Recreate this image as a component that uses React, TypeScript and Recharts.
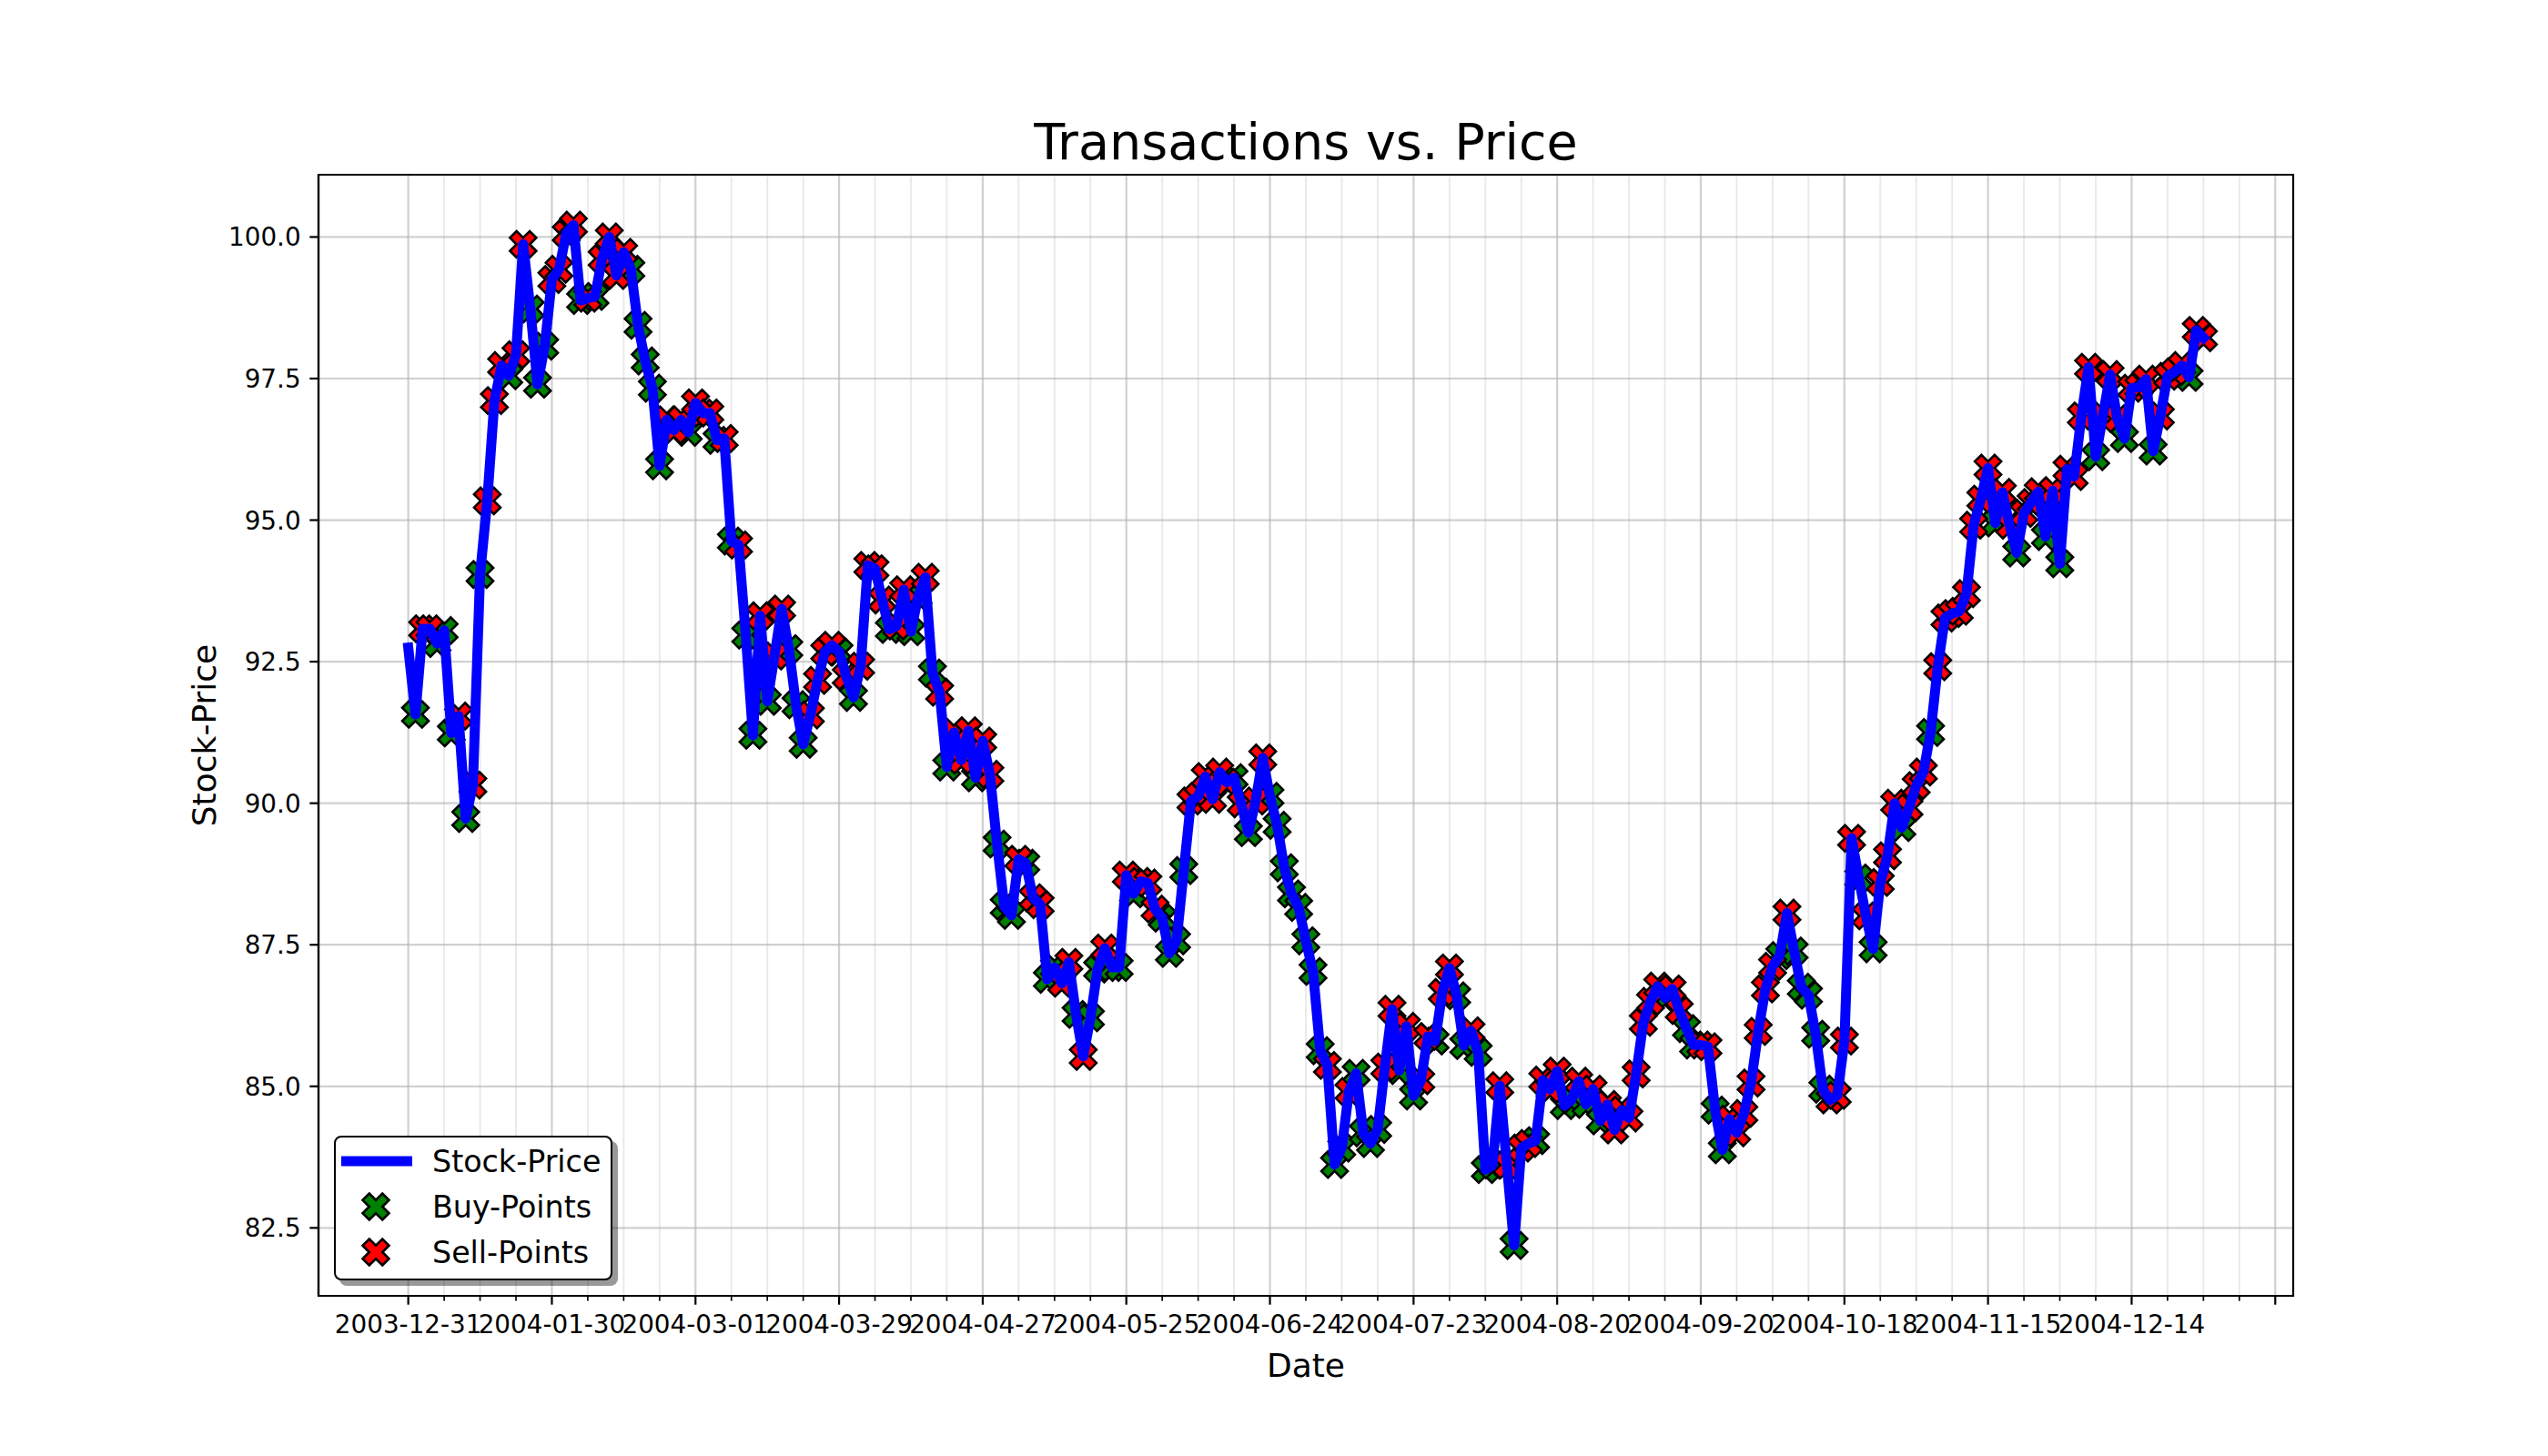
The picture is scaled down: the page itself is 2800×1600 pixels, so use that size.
import React from "react";
import {
  ComposedChart, Line, Scatter, XAxis, YAxis, CartesianGrid, ReferenceArea,
} from "recharts";

const FONT = '"DejaVu Sans", "Liberation Sans", sans-serif';

// tick labels shown every 20 trading days
const dateLabels = [
  "2003-12-31", "2004-01-30", "2004-03-01", "2004-03-29", "2004-04-27",
  "2004-05-25", "2004-06-24", "2004-07-23", "2004-08-20", "2004-09-20",
  "2004-10-18", "2004-11-15", "2004-12-14",
];

// closing price per trading day (index 0 .. 250)
const prices = [
  92.75, 91.57, 93.08, 93.08, 92.82, 93.05, 91.24, 91.54, 89.73, 90.32,
  94.04, 95.34, 97.11, 97.73, 97.55, 97.92, 99.87, 98.73, 97.4, 98.07,
  99.25, 99.43, 100.06, 100.21, 98.88, 98.92, 98.95, 99.62, 100.0, 99.32,
  99.73, 99.43, 98.44, 97.81, 97.33, 95.96, 96.77, 96.59, 96.77, 96.55,
  97.07, 96.89, 96.89, 96.41, 96.44, 94.63, 94.56, 92.97, 91.2, 93.31,
  91.8, 92.6, 93.43, 92.73, 91.74, 91.04, 91.56, 92.17, 92.67, 92.79,
  92.67, 92.24, 91.87, 92.42, 94.2, 94.14, 93.59, 93.07, 93.13, 93.77,
  93.03, 93.65, 93.99, 92.3, 91.96, 90.64, 91.25, 90.76, 91.28, 90.45,
  91.1, 90.51, 89.28, 88.18, 88.02, 89.01, 88.94, 88.33, 88.21, 86.89,
  87.1, 86.82, 87.19, 86.27, 85.53, 86.21, 87.07, 87.44, 87.1, 87.1,
  88.73, 88.4, 88.62, 88.59, 88.13, 87.97, 87.35, 87.57, 88.81, 90.04,
  90.12, 90.47, 90.07, 90.55, 90.37, 90.45, 89.99, 89.48, 90.04, 90.8,
  90.12, 89.61, 88.86, 88.4, 88.16, 87.57, 87.03, 85.63, 85.37, 83.62,
  83.91, 84.91, 85.23, 84.18, 83.99, 84.24, 85.34, 86.36, 85.28, 86.06,
  84.83, 85.1, 85.88, 85.8, 86.66, 87.09, 86.6, 85.72, 85.98, 85.6,
  83.53, 83.61, 85.01, 83.61, 82.19, 83.91, 83.99, 84.04, 85.11, 84.95,
  85.27, 84.66, 84.76, 85.09, 84.68, 84.95, 84.39, 84.68, 84.23, 84.58,
  84.44, 85.22, 86.13, 86.5, 86.77, 86.56, 86.72, 86.34, 86.02, 85.73,
  85.73, 85.7, 84.58, 83.88, 84.42, 84.18, 84.52, 85.06, 85.97, 86.72,
  87.12, 87.31, 88.06, 87.39, 86.75, 86.61, 85.92, 84.95, 84.76, 84.84,
  85.8, 89.38, 88.68, 88.01, 87.43, 88.6, 89.07, 90.0, 89.57, 89.92,
  90.31, 90.55, 91.25, 92.41, 93.27, 93.35, 93.39, 93.7, 94.91, 95.37,
  95.92, 94.95, 95.49, 94.91, 94.42, 95.12, 95.31, 95.5, 94.71, 95.52,
  94.23, 95.9, 95.77, 96.84, 97.7, 96.12, 96.84, 97.57, 96.79, 96.44,
  97.33, 97.35, 97.49, 96.22, 96.84, 97.54, 97.62, 97.73, 97.52, 98.35,
  98.22,
];

// trading days with a buy / a sell
const buyIdx = [
  1, 4, 5, 6, 8, 10, 14, 17, 18, 19, 24, 26, 31, 32, 33, 34, 35, 39, 43, 45, 47, 48, 50,
  53, 54, 55, 60, 62, 67, 70, 71, 73, 75, 79, 82, 83, 84, 86, 89, 90, 93, 95, 96, 98, 99,
  101, 105, 106, 107, 108, 115, 117, 120, 121, 122, 123, 124, 125, 126, 127, 129, 130,
  132, 133, 134, 135, 138, 140, 143, 146, 147, 149, 150,
  151, 154, 157, 161, 162, 164, 166, 175, 178, 179, 182, 183, 191, 193, 194, 195, 196, 197,
  202, 204, 208, 212, 221, 224, 228, 230, 235, 239, 243, 248,
];
const sellIdx = [
  2, 3, 7, 9, 11, 12, 13, 15, 16, 20, 21, 22, 23, 25, 27, 28, 29, 30, 36, 37, 38, 40, 41, 42, 44, 46, 49,
  51, 52, 56, 57, 58, 59, 61, 63, 64, 65, 66, 68, 69, 72, 74, 76, 77, 78, 80, 81, 85, 87, 88, 91, 92, 94, 97, 100,
  102, 103, 104, 109, 110, 111, 112, 113, 114, 116, 118, 119, 128, 131, 136, 137, 139, 141, 142, 144, 145, 148,
  152, 153, 155, 156, 158, 159, 160, 163, 165, 167, 168, 169, 170, 171, 172, 173, 174, 176, 177, 180, 181,
  184, 185, 186, 187, 188, 189, 190, 192, 198, 199, 200,
  201, 203, 205, 206, 207, 209, 210, 211, 213, 214, 215, 216, 217, 218, 219, 220, 222, 223, 225, 226, 227,
  229, 231, 232, 233, 234, 236, 237, 238, 240, 241, 242, 244, 245, 246, 247, 249, 250,
];

const yTicks = [82.5, 85, 87.5, 90, 92.5, 95, 97.5, 100];
const xTicks = Array.from({ length: 53 }, (_, i) => i * 5); // minor every 5, major every 20
const legendLabels = ["Stock-Price", "Buy-Points", "Sell-Points"];

const priceData = prices.map((price, idx) => ({ idx, price }));
const buyData = buyIdx.map((idx) => ({ idx, price: prices[idx] }));
const sellData = sellIdx.map((idx) => ({ idx, price: prices[idx] }));

// matplotlib's filled "X" marker outline
const X_PTS = [[-1, -2], [0, -1], [1, -2], [2, -1], [1, 0], [2, 1], [1, 2], [0, 1], [-1, 2], [-2, 1], [-1, 0], [-2, -1]];
const xPath = (cx: number, cy: number, unit: number) =>
  X_PTS.map(([a, b], i) => `${i ? "L" : "M"}${cx + a * unit},${cy + b * unit}`).join("") + "Z";

function XMark({ cx, cy, fill }: { cx?: number; cy?: number; fill: string }) {
  if (cx == null || cy == null) return null;
  return <path d={xPath(cx, cy, 7.25)} fill={fill} stroke="#000" strokeWidth={2.6} strokeLinejoin="miter" />;
}

function XTick(props: any) {
  const { x, y, payload } = props;
  const v = payload.value as number;
  const major = v % 20 === 0;
  const label = major ? dateLabels[v / 20] : undefined;
  return (
    <g>
      <line x1={x} x2={x} y1={y} y2={y + (major ? 9.7 : 5.6)} stroke="#000" strokeWidth={major ? 2.2 : 1.7} />
      {label && (
        <text x={x} y={y + 41} textAnchor="middle" fontSize={27.8} fontFamily={FONT} fill="#000">{label}</text>
      )}
    </g>
  );
}

function YTick(props: any) {
  const { x, y, payload } = props;
  return (
    <g>
      <line x1={x - 9.7} x2={x} y1={y} y2={y} stroke="#000" strokeWidth={2.2} />
      <text x={x - 19.4} y={y + 10} textAnchor="end" fontSize={27.8} fontFamily={FONT} fill="#000">
        {(payload.value as number).toFixed(1)}
      </text>
    </g>
  );
}

const hGrid = (p: any) => (
  <line key={p.key} x1={p.x1} y1={p.y1} x2={p.x2} y2={p.y2} stroke="#b0b0b0" strokeOpacity={0.6} strokeWidth={2.2} />
);
const vGrid = (p: any) => {
  const major = p.index % 4 === 0;
  return (
    <line key={p.key} x1={p.x1} y1={p.y1} x2={p.x2} y2={p.y2} stroke="#b0b0b0"
      strokeOpacity={major ? 0.6 : 0.28} strokeWidth={major ? 2.2 : 1.9} />
  );
};

export default function App() {
  return (
    <div style={{ position: "relative", width: 2800, height: 1600, background: "#fff", fontFamily: FONT }}>
      <style>{`body{margin:0;}`}</style>
      <ComposedChart width={2800} height={1600} margin={{ top: 192, right: 280, bottom: 0, left: 0 }}>
        <CartesianGrid horizontal={hGrid} vertical={vGrid} />
        <XAxis
          dataKey="idx" type="number" domain={[-12.5, 262.5]} ticks={xTicks} interval={0}
          height={176} tickSize={0} tickMargin={0} tickLine={false} tick={<XTick />}
          axisLine={{ stroke: "#000", strokeWidth: 2.2 }}
        />
        <YAxis
          type="number" domain={[81.3, 101.1]} ticks={yTicks} interval={0}
          width={350} tickSize={0} tickMargin={0} tickLine={false} tick={<YTick />}
          axisLine={{ stroke: "#000", strokeWidth: 2.2 }}
        />
        <Scatter data={buyData} dataKey="price" fill="#008000" isAnimationActive={false}
          shape={(p: any) => <XMark cx={p.cx} cy={p.cy} fill="#008000" />} />
        <Scatter data={sellData} dataKey="price" fill="#ff0000" isAnimationActive={false}
          shape={(p: any) => <XMark cx={p.cx} cy={p.cy} fill="#ff0000" />} />
        <Line
          data={priceData} dataKey="price" type="linear" stroke="#0000ff" strokeWidth={11}
          strokeLinecap="square" strokeLinejoin="round" dot={false} activeDot={false}
          isAnimationActive={false} zIndex={700}
        />
        <ReferenceArea x1={-12.5} x2={262.5} y1={81.3} y2={101.1} fill="none" fillOpacity={0}
          stroke="#000" strokeWidth={2.2} ifOverflow="visible" />
      </ComposedChart>

      <svg width={2800} height={1600} style={{ position: "absolute", left: 0, top: 0, pointerEvents: "none" }}>
        <text x={1435} y={175} textAnchor="middle" fontSize={55.6} fontFamily={FONT} fill="#000">
          Transactions vs. Price
        </text>
        <text x={1435} y={1513} textAnchor="middle" fontSize={36} fontFamily={FONT} fill="#000">Date</text>
        <text x={237} y={808} textAnchor="middle" fontSize={36} fontFamily={FONT} fill="#000"
          transform="rotate(-90 237 808)">Stock-Price</text>
      </svg>

      <div style={{
        position: "absolute", left: 367, top: 1248, width: 306, height: 159, boxSizing: "border-box",
        border: "2.2px solid #000", borderRadius: 8, background: "#fff",
        boxShadow: "6px 6px 0 rgba(0,0,0,0.4)",
      }}>
        <svg width={306} height={159} style={{ position: "absolute", left: -2.2, top: -2.2 }}>
          <line x1={8} x2={86} y1={28} y2={28} stroke="#0000ff" strokeWidth={11} />
          <XMark cx={46} cy={78} fill="#008000" />
          <XMark cx={46} cy={128} fill="#ff0000" />
          {legendLabels.map((t, i) => (
            <text key={t} x={108} y={40 + i * 50} fontSize={33.3} fontFamily={FONT} fill="#000">{t}</text>
          ))}
        </svg>
      </div>
    </div>
  );
}
